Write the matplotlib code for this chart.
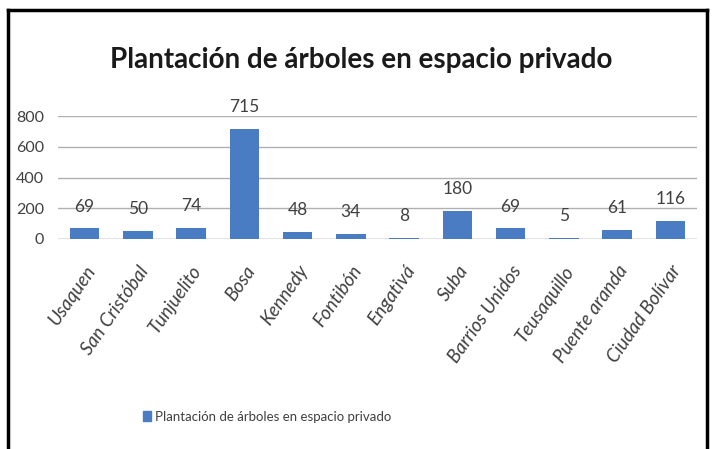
import matplotlib
matplotlib.use("Agg")
import matplotlib.pyplot as plt
from matplotlib.lines import Line2D
from matplotlib.patches import Patch

categories = ["Usaquen", "San Cristóbal", "Tunjuelito", "Bosa", "Kennedy", "Fontibón",
              "Engativá", "Suba", "Barrios Unidos", "Teusaquillo", "Puente aranda", "Ciudad Bolívar"]
values = [69, 50, 74, 715, 48, 34, 8, 180, 69, 5, 61, 116]
yticks = [0, 200, 400, 600, 800]
series_name = "Plantación de árboles en espacio privado"

FONT = ["Lato", "DejaVu Sans"]
plt.rcParams['font.family'] = FONT

W, H = 717, 449
fig = plt.figure(figsize=(W / 100, H / 100), dpi=100)
fig.patch.set_facecolor("white")

x0, x1 = 58 / W, 697 / W
yb, yt = (H - 239) / H, (H - 116) / H
ax = fig.add_axes([x0, yb, x1 - x0, yt - yb])

bar_color = "#4a7cc4"
xs = list(range(len(categories)))
ax.bar(xs, values, width=0.55, color=bar_color, zorder=3)
ax.set_xlim(-0.5, len(categories) - 0.5)
ax.set_ylim(0, 800)
ax.set_yticks(yticks)
ax.set_yticklabels([str(t) for t in yticks], fontsize=11.5, color="#404040")
ax.tick_params(axis='y', length=0, pad=10)
ax.tick_params(axis='x', length=0, pad=17)
ax.set_xticks(xs)
ax.set_xticklabels(categories, rotation=55, ha='right', rotation_mode='anchor',
                   fontsize=13.5, color="#404040", style='italic')
ax.grid(axis='y', color="#b0b0b0", linewidth=1, zorder=0)
for s in ax.spines.values():
    s.set_visible(False)
ax.axhline(0, color="#b0b0b0", linewidth=1, zorder=2)

for x, v in zip(xs, values):
    ax.annotate(str(v), (x, v), xytext=(0, 10), textcoords='offset points',
                ha='center', va='bottom', fontsize=12.5, color="#404040")

fig.text(361 / W, 1 - 60 / H, series_name, ha='center', va='center',
         fontsize=20, fontweight='bold', color="#1a1a1a")

fig.legend(handles=[Patch(color=bar_color, label=series_name)], loc='center',
           bbox_to_anchor=(267 / W, 1 - 417 / H), frameon=False, fontsize=9.5,
           handlelength=0.6, handleheight=0.8, handletextpad=0.3, labelcolor="#404040")

# outer frame
fig.add_artist(Line2D([8 / W, 707 / W], [1 - 10 / H, 1 - 10 / H], color='black', linewidth=2.5))
fig.add_artist(Line2D([8 / W, 8 / W], [0, 1 - 10 / H], color='black', linewidth=2.5))
fig.add_artist(Line2D([707 / W, 707 / W], [0, 1 - 10 / H], color='black', linewidth=2.5))

fig.savefig("out.png", dpi=100)
